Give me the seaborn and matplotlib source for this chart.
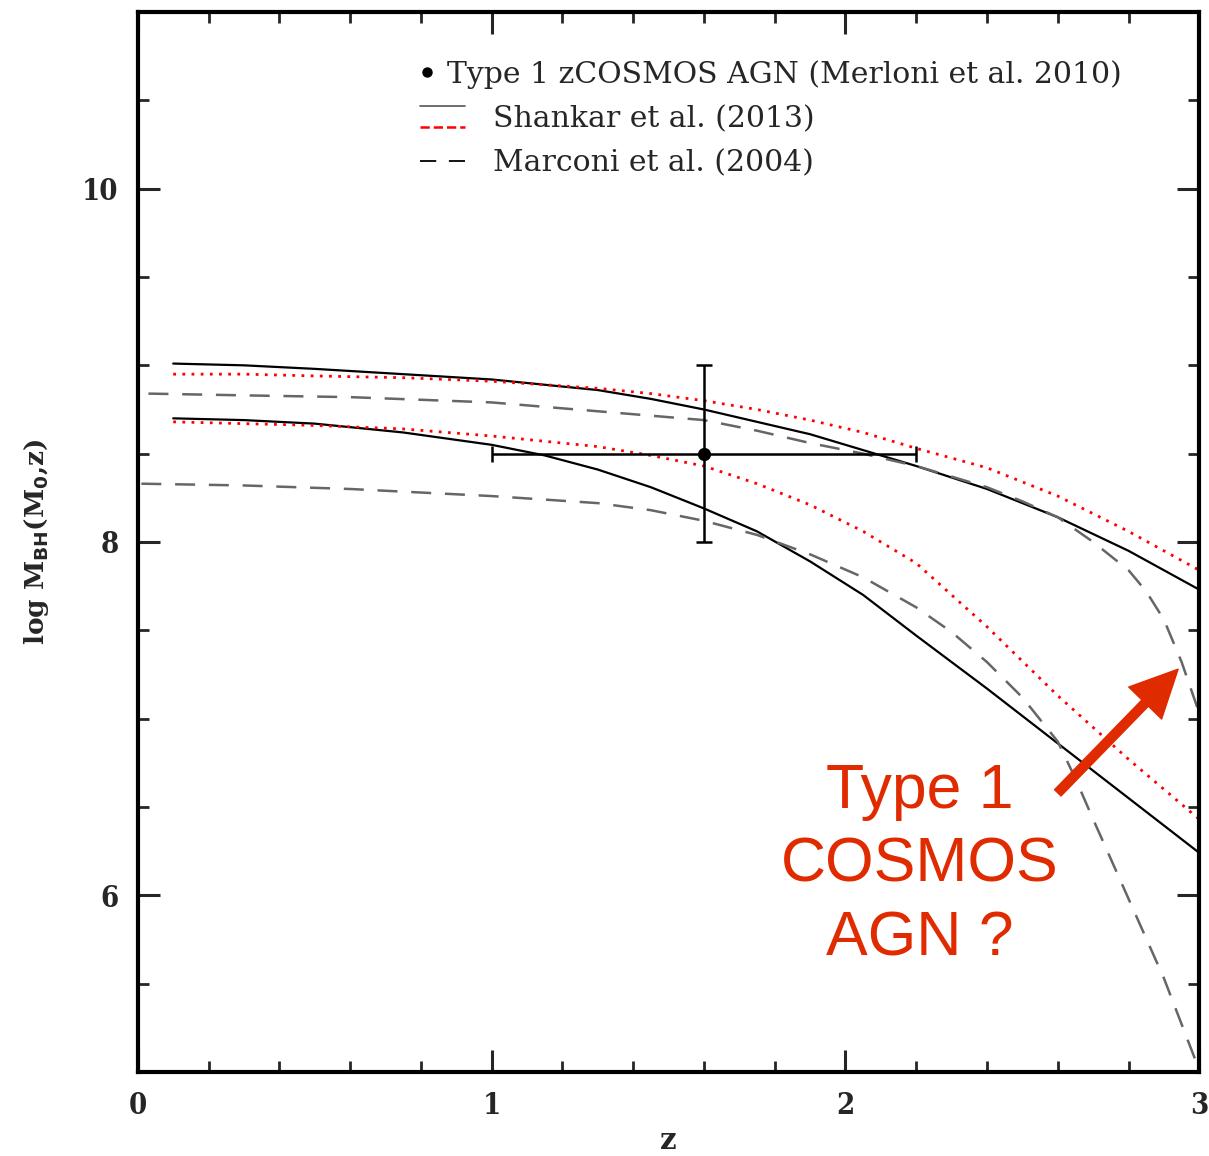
import numpy as np
import pandas as pd
import seaborn as sns
import matplotlib
matplotlib.use("Agg")
import matplotlib.pyplot as plt
from matplotlib.lines import Line2D
from matplotlib.legend_handler import HandlerBase
from matplotlib.ticker import MultipleLocator

# ---------------- data ----------------
z_shankar = [0.1, 0.3, 0.5, 0.75, 1.0, 1.15, 1.3, 1.45, 1.6, 1.75, 1.9, 2.05, 2.2, 2.4, 2.6, 2.8, 3.0]
shankar_hi_solid = [9.01, 9.00, 8.98, 8.95, 8.92, 8.89, 8.86, 8.81, 8.75, 8.68, 8.61, 8.52, 8.43, 8.30, 8.14, 7.95, 7.73]
shankar_hi_dot = [8.95, 8.95, 8.94, 8.93, 8.91, 8.89, 8.87, 8.84, 8.80, 8.75, 8.69, 8.62, 8.53, 8.42, 8.26, 8.06, 7.84]
shankar_lo_solid = [8.70, 8.69, 8.67, 8.62, 8.55, 8.49, 8.41, 8.31, 8.19, 8.06, 7.89, 7.70, 7.47, 7.17, 6.86, 6.55, 6.24]
shankar_lo_dot = [8.68, 8.67, 8.66, 8.64, 8.60, 8.57, 8.54, 8.49, 8.43, 8.33, 8.21, 8.06, 7.88, 7.52, 7.13, 6.77, 6.43]

z_marconi_hi = [0.03, 0.3, 0.6, 1.0, 1.3, 1.6, 1.75, 1.9, 2.05, 2.2, 2.4, 2.5, 2.6, 2.7, 2.8, 2.85, 2.9, 2.95, 3.0]
marconi_hi = [8.84, 8.83, 8.82, 8.79, 8.74, 8.69, 8.63, 8.56, 8.50, 8.43, 8.31, 8.23, 8.14, 8.00, 7.84, 7.72, 7.56, 7.32, 7.03]
z_marconi_lo = [0.01, 0.3, 0.6, 1.0, 1.3, 1.45, 1.6, 1.75, 1.9, 2.05, 2.2, 2.3, 2.4, 2.5, 2.6, 2.65, 2.7, 2.8, 2.9, 3.0]
marconi_lo = [8.33, 8.32, 8.30, 8.26, 8.22, 8.18, 8.12, 8.04, 7.93, 7.80, 7.63, 7.49, 7.32, 7.12, 6.87, 6.66, 6.43, 5.98, 5.53, 5.01]

agn_z = [1.6]
agn_logm = [8.5]
agn_zerr = [0.6]
agn_merr = [0.5]

legend_labels = ['Type 1 zCOSMOS AGN (Merloni et al. 2010)', 'Shankar et al. (2013)',
                 'Marconi et al. (2004)']
red_note = "Type 1\nCOSMOS\nAGN ?"

# ---------------- figure ----------------
sns.set_style("white")
plt.rcParams['font.family'] = ['DejaVu Serif']

fig = plt.figure(figsize=(12.09, 11.56), dpi=100)
ax = fig.add_axes([0.114, 0.0727, 0.878, 0.9169])

lw = 1.6
dotted = (0, (1, 2.3))
dashed = (0, (8, 5.5))
sns.lineplot(x=z_shankar, y=shankar_hi_solid, ax=ax, color='black', lw=lw)
sns.lineplot(x=z_shankar, y=shankar_lo_solid, ax=ax, color='black', lw=lw)
sns.lineplot(x=z_shankar, y=shankar_hi_dot, ax=ax, color='red', lw=2.0, linestyle=dotted)
sns.lineplot(x=z_shankar, y=shankar_lo_dot, ax=ax, color='red', lw=2.0, linestyle=dotted)
sns.lineplot(x=z_marconi_hi, y=marconi_hi, ax=ax, color='#666666', lw=1.8, linestyle=dashed)
sns.lineplot(x=z_marconi_lo, y=marconi_lo, ax=ax, color='#666666', lw=1.8, linestyle=dashed)

ax.errorbar(agn_z, agn_logm, xerr=agn_zerr, yerr=agn_merr, fmt='o', color='black',
            ms=8.5, elinewidth=1.8, capsize=5.5, capthick=1.8)

ax.set_xlim(0, 3)
ax.set_ylim(5, 11)
ax.xaxis.set_major_locator(MultipleLocator(1))
ax.xaxis.set_minor_locator(MultipleLocator(0.2))
ax.yaxis.set_major_locator(MultipleLocator(2))
ax.yaxis.set_minor_locator(MultipleLocator(0.5))
ax.tick_params(which='both', direction='in', top=True, right=True, left=True, bottom=True)
ax.tick_params(which='major', length=16, width=2.2, pad=14)
ax.tick_params(which='minor', length=8, width=2.0)
for s in ax.spines.values():
    s.set_linewidth(3)
    s.set_color('black')

for lab in ax.get_xticklabels() + ax.get_yticklabels():
    lab.set_fontweight('bold')
    lab.set_fontsize(21)
    lab.set_fontstretch('condensed')

ax.set_xlabel('z', fontsize=21, fontweight='bold', labelpad=4)
ax.set_ylabel(r'log M$_{\mathbf{BH}}$(M$_{\mathbf{0}}$,z)', fontsize=19, fontweight='bold', labelpad=22)

# red annotation
red = '#E02A00'
ax.text(2.21, 6.17, red_note, color=red, fontsize=45, ha='center', va='center',
        family='Liberation Sans', linespacing=1.32)
ax.annotate('', xy=(2.94, 7.28), xytext=(2.60, 6.58),
            arrowprops=dict(facecolor=red, edgecolor=red, width=6.5, headwidth=33,
                            headlength=34, shrink=0))

# legend
class VStackHandler(HandlerBase):
    def create_artists(self, legend, orig_handle, xdescent, ydescent, width, height,
                       fontsize, trans):
        top, bot = orig_handle
        a = Line2D([-xdescent, -xdescent + width], [height * 1.0] * 2,
                   color=top.get_color(), lw=top.get_linewidth(), linestyle=top.get_linestyle(),
                   transform=trans)
        b = Line2D([-xdescent, -xdescent + width], [height * 0.0] * 2,
                   color=bot.get_color(), lw=bot.get_linewidth(), linestyle=bot.get_linestyle(),
                   transform=trans)
        return [a, b]

class LeftMarkerHandler(HandlerBase):
    def create_artists(self, legend, orig_handle, xdescent, ydescent, width, height,
                       fontsize, trans):
        m = Line2D([-xdescent + 5], [height / 2 - ydescent], marker='o', color='black',
                   ls='none', ms=orig_handle.get_markersize(), transform=trans)
        return [m]

class Stack:
    def __init__(self, a, b):
        self.a, self.b = a, b
    def __iter__(self):
        return iter((self.a, self.b))

class Dot:
    def __init__(self, ms):
        self.ms = ms
    def get_markersize(self):
        return self.ms

h1 = Dot(6.5)
h2 = Stack(Line2D([], [], color='#555555', lw=1.2),
           Line2D([], [], color='red', lw=1.8, ls=(0, (1, 2.3))))
h3 = Line2D([], [], color='black', lw=1.3, ls=(0, (9, 7)))
leg = ax.legend([h1, h2, h3], legend_labels,
                handler_map={Stack: VStackHandler(), Dot: LeftMarkerHandler()},
                loc='upper left', bbox_to_anchor=(0.266, 0.955), frameon=False,
                fontsize=21.5, handlelength=1.5, handletextpad=0.93, labelspacing=0.55,
                borderpad=0, borderaxespad=0)
leg.get_texts()[0].set_position((-46, 0))

fig.savefig('out.png', dpi=100)
